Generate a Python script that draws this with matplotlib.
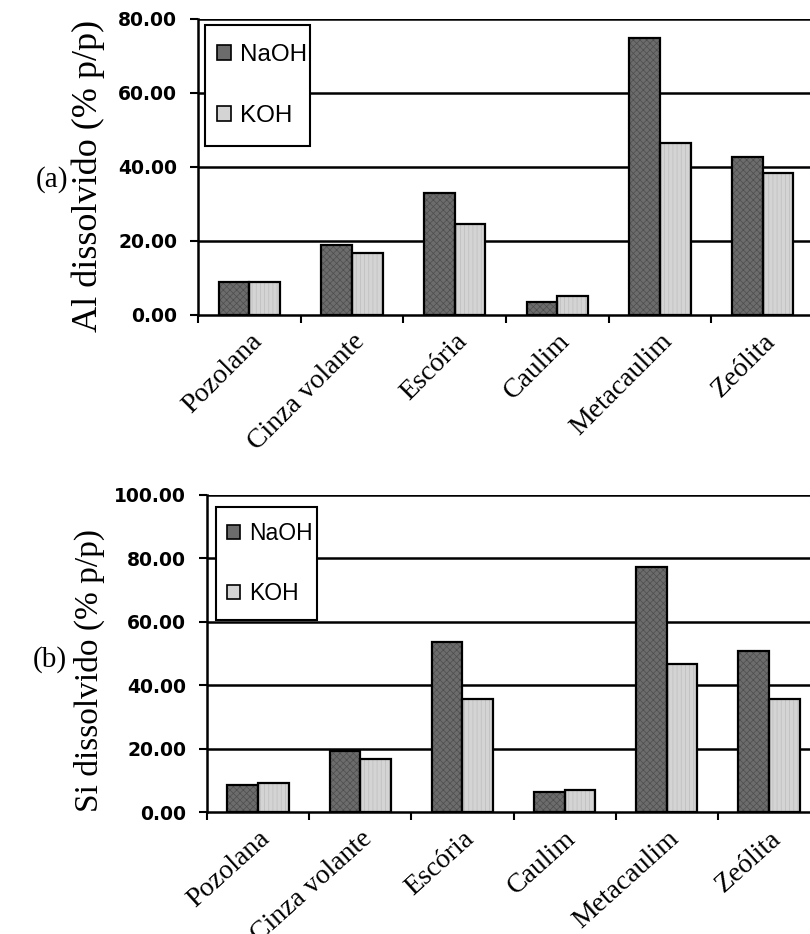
import numpy as np
import matplotlib
matplotlib.use("Agg")
import matplotlib.pyplot as plt
from matplotlib.patches import Patch, Rectangle

categories = ["Pozolana", "Cinza volante", "Escória", "Caulim", "Metacaulim", "Zeólita"]
series = ["NaOH", "KOH"]

al_naoh = [8.9, 18.9, 33.0, 3.5, 74.9, 42.7]
al_koh = [8.9, 16.8, 24.6, 5.1, 46.5, 38.4]

si_naoh = [8.5, 19.2, 53.6, 6.3, 77.3, 50.8]
si_koh = [9.1, 16.7, 35.6, 6.9, 46.7, 35.6]

al_ticks = [0, 20, 40, 60, 80]
si_ticks = [0, 20, 40, 60, 80, 100]

plt.rcParams["hatch.linewidth"] = 0.5

NAOH_FACE, NAOH_HATCH = "#6c6c6c", "#4e4e4e"
KOH_FACE, KOH_HATCH = "#d4d4d4", "#bdbdbd"
SERIF = "Liberation Serif"
SANS = "Liberation Sans"


def bars(ax, x, vals, off, face, hcolor, hatch, w):
    # textured fill first, then a plain black outline on top
    ax.bar(x + off, vals, w, color=face, edgecolor=hcolor, hatch=hatch,
           linewidth=0, zorder=3)
    ax.bar(x + off, vals, w, fill=False, edgecolor="black", linewidth=1.6,
           zorder=4)


def panel(ax, naoh, koh, ticks, rot, box, legsize):
    x = np.arange(len(categories))
    w = 0.3
    bars(ax, x, naoh, -w / 2, NAOH_FACE, NAOH_HATCH, "xxxxx", w)
    bars(ax, x, koh, w / 2, KOH_FACE, KOH_HATCH, "||||", w)

    ax.set_xlim(-0.5, len(categories) - 0.5)
    ax.set_ylim(ticks[0], ticks[-1])
    for t in ticks[1:]:
        ax.axhline(t, color="black", linewidth=1.8, zorder=1)

    ax.set_yticks(ticks)
    ax.set_yticklabels([f"{t:.2f}" for t in ticks], fontfamily="DejaVu Sans",
                       fontweight="bold", fontsize=13.5)
    ax.tick_params(axis="y", direction="out", length=6, width=1.5, pad=9)

    ax.set_xticks(x)
    ax.set_xticklabels(categories, rotation=rot, ha="right", va="top",
                       rotation_mode="anchor", fontfamily=SERIF, fontsize=20)
    ax.tick_params(axis="x", which="major", length=0, pad=10)
    ax.set_xticks(np.arange(len(categories) + 1) - 0.5, minor=True)
    ax.tick_params(axis="x", which="minor", direction="out", length=6, width=1.5)

    for s in ["top", "right"]:
        ax.spines[s].set_visible(False)
    for s in ["left", "bottom"]:
        ax.spines[s].set_linewidth(1.8)

    # legend box drawn separately so it can be narrower than matplotlib's padding
    x0, x1, y0, y1 = box
    ax.add_patch(Rectangle((x0, y0), x1 - x0, y1 - y0, transform=ax.transAxes,
                           facecolor="white", edgecolor="black", linewidth=1.5,
                           zorder=5, clip_on=False))
    handles = [Patch(facecolor=NAOH_FACE, edgecolor="black", linewidth=1.2),
               Patch(facecolor=KOH_FACE, edgecolor="black", linewidth=1.2)]
    leg = ax.legend(handles, series, loc="center left",
                    bbox_to_anchor=(x0, (y0 + y1) / 2), borderaxespad=0,
                    frameon=False, handlelength=0.55, handleheight=0.55,
                    handletextpad=0.4, labelspacing=1.6, borderpad=0.5,
                    prop={"family": SANS, "size": legsize})
    leg.set_zorder(6)


fig = plt.figure(figsize=(8.1, 9.34), dpi=100)

ax1 = fig.add_axes([198 / 810, 1 - 315 / 934, 616 / 810, 296 / 934])
panel(ax1, al_naoh, al_koh, al_ticks, 45, (0.0114, 0.1818, 0.571, 0.980), 17.5)

ax2 = fig.add_axes([207 / 810, 1 - 812 / 934, 613 / 810, 317 / 934])
panel(ax2, si_naoh, si_koh, si_ticks, 42, (0.0147, 0.1794, 0.606, 0.962), 16.5)

fig.text(88 / 810, 1 - 176 / 934, "Al dissolvido (% p/p)", rotation=90,
         fontfamily=SERIF, fontsize=26, ha="center", va="center")
fig.text(89 / 810, 1 - 670 / 934, "Si dissolvido (% p/p)", rotation=90,
         fontfamily=SERIF, fontsize=24, ha="center", va="center")

fig.text(52 / 810, 1 - 180 / 934, "(a)", fontfamily=SERIF, fontsize=21,
         ha="center", va="center")
fig.text(50 / 810, 1 - 660 / 934, "(b)", fontfamily=SERIF, fontsize=21,
         ha="center", va="center")

fig.savefig("out.png", dpi=100, facecolor="white")
